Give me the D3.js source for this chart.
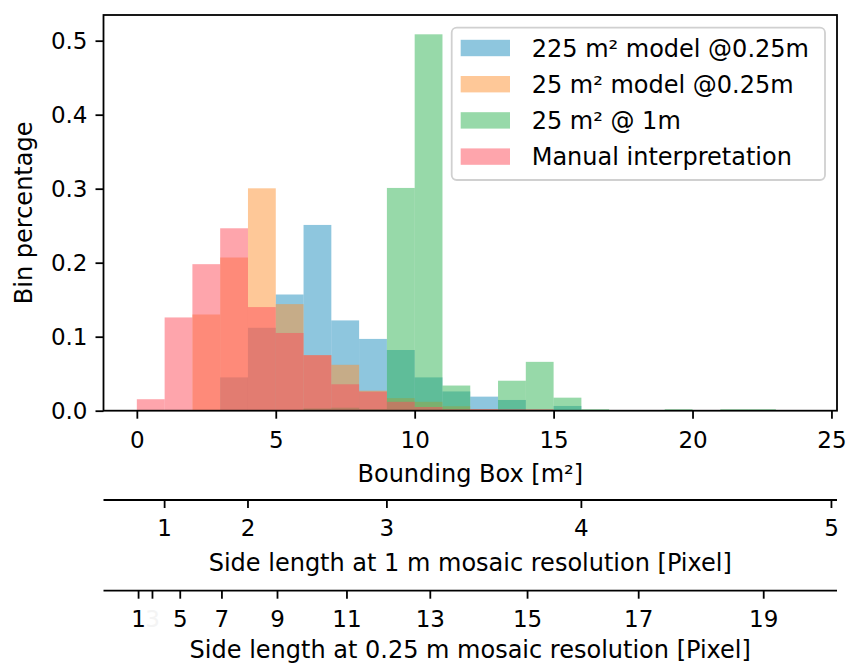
<!DOCTYPE html>
<html>
<head>
<meta charset="utf-8">
<script src="https://cdn.jsdelivr.net/npm/d3@7"></script>
<style>
  body { margin: 0; background: white; }
  text { font-family: "DejaVu Sans", sans-serif; fill: black; }
</style>
</head>
<body>
<div id="chart"></div>
<script>
// bin left edges, width 1 m²
var bins = d3.range(0, 24)

var model225 = [0, 0, 0, 0.045, 0.112, 0.157, 0.251, 0.122, 0.097, 0.082, 0.045, 0.026, 0.019, 0.0145, 0, 0.0064, 0, 0, 0, 0, 0, 0, 0, 0]
var model25 = [0, 0, 0.13, 0.207, 0.3005, 0.144, 0.075, 0.062, 0.027, 0.017, 0.012, 0.006, 0.002, 0, 0, 0, 0, 0, 0, 0, 0, 0, 0, 0]
var model25at1m = [0, 0, 0, 0, 0, 0, 0.003, 0.004, 0.002, 0.301, 0.5086, 0.034, 0, 0.0405, 0.066, 0.0176, 0.002, 0, 0, 0.002, 0, 0.002, 0.002, 0]
var manual = [0.0155, 0.126, 0.198, 0.2465, 0.14, 0.105, 0.075, 0.0357, 0.0257, 0.012, 0.005, 0.002, 0.002, 0.002, 0.002, 0, 0, 0, 0, 0, 0, 0, 0, 0]

var seriesNames = ['225 m² model @0.25m', '25 m² model @0.25m', '25 m² @ 1m', 'Manual interpretation']
var seriesColors = ['#1d8dbd', '#fd9131', '#2fb353', '#fd4b59']

var xTicks = [0, 5, 10, 15, 20, 25]
var yTicks = [0, 0.1, 0.2, 0.3, 0.4, 0.5]
var side1m = [1, 2, 3, 4, 5]
var side025 = [1, 3, 5, 7, 9, 11, 13, 15, 17, 19]

var width = 847, height = 663
var pLeft = 103.5, pRight = 837, pTop = 15, pBottom = 410.7

var svg = d3.select('#chart').append('svg')
  .attr('width', width)
  .attr('height', height)

var x = d3.scaleLinear().domain([-1.2, 25.2]).range([pLeft, pRight])
var y = d3.scaleLinear().domain([0, 0.5347]).range([pBottom, pTop])

// histograms, drawn in legend order with alpha
var allSeries = [model225, model25, model25at1m, manual]
allSeries.forEach(function (vals, i) {
  svg.append('g')
    .selectAll('rect')
    .data(bins.filter(function (b) { return vals[b] > 0 }))
    .enter().append('rect')
      .attr('x', function (b) { return x(b) })
      .attr('width', function (b) { return x(b + 1) - x(b) })
      .attr('y', function (b) { return y(vals[b]) })
      .attr('height', function (b) { return y(0) - y(vals[b]) })
      .attr('fill', seriesColors[i])
      .attr('fill-opacity', 0.5)
})

// main axes
var xAxis = svg.append('g')
  .attr('transform', 'translate(0,' + pBottom + ')')
  .call(d3.axisBottom(x).tickValues(xTicks).tickFormat(d3.format('d')).tickSize(8).tickPadding(13))
var yAxis = svg.append('g')
  .attr('transform', 'translate(' + pLeft + ',0)')
  .call(d3.axisLeft(y).tickValues(yTicks).tickFormat(d3.format('.1f')).tickSize(8).tickPadding(8))

;[xAxis, yAxis].forEach(function (g) {
  g.select('.domain').remove()
  g.selectAll('line').attr('stroke', 'black').attr('stroke-width', 1.8)
  g.selectAll('text').attr('font-size', 23).attr('font-family', 'DejaVu Sans')
})
xAxis.selectAll('text').attr('dy', '0.71em')

svg.append('rect')
  .attr('x', pLeft).attr('y', pTop)
  .attr('width', pRight - pLeft).attr('height', pBottom - pTop)
  .attr('fill', 'none').attr('stroke', 'black').attr('stroke-width', 1.8)

svg.append('text')
  .attr('x', (pLeft + pRight) / 2).attr('y', 481.7)
  .attr('text-anchor', 'middle').attr('font-size', 24)
  .text('Bounding Box [m²]')

svg.append('text')
  .attr('transform', 'translate(32,' + (pTop + pBottom) / 2 + ') rotate(-90)')
  .attr('text-anchor', 'middle').attr('font-size', 24)
  .text('Bin percentage')

// secondary axes: side length in pixels -> area in m²
function sideAxis(yPos, ticks, toArea, labelY, label) {
  var g = svg.append('g').attr('transform', 'translate(0,' + yPos + ')')
  g.append('line')
    .attr('x1', pLeft).attr('x2', pRight)
    .attr('stroke', 'black').attr('stroke-width', 1.8)
  var t = g.selectAll('.tk').data(ticks).enter().append('g')
    .attr('transform', function (d) { return 'translate(' + x(toArea(d)) + ',0)' })
  t.append('line').attr('y2', 8).attr('stroke', 'black').attr('stroke-width', 1.8)
  t.append('text')
    .attr('y', 36).attr('text-anchor', 'middle').attr('font-size', 23)
    .style('fill', function (d) { return d === 3 && ticks.length > 5 ? '#f4f4f4' : 'black' })
    .text(function (d) { return d })
  svg.append('text')
    .attr('x', (pLeft + pRight) / 2).attr('y', labelY)
    .attr('text-anchor', 'middle').attr('font-size', 24)
    .text(label)
}
sideAxis(500, side1m, function (s) { return s * s }, 570.7, 'Side length at 1 m mosaic resolution [Pixel]')
sideAxis(590.7, side025, function (p) { return p * p / 16 }, 658, 'Side length at 0.25 m mosaic resolution [Pixel]')

// legend
var legend = svg.append('g')
legend.append('rect')
  .attr('x', 451.7).attr('y', 27.7)
  .attr('width', 825 - 451.7).attr('height', 180 - 27.7)
  .attr('rx', 5).attr('ry', 5)
  .attr('fill', 'white').attr('fill-opacity', 0.8)
  .attr('stroke', '#d0d0d0').attr('stroke-width', 1.8)

var rows = legend.selectAll('.row').data(seriesNames).enter().append('g')
  .attr('transform', function (d, i) { return 'translate(0,' + (48 + i * 36.2) + ')' })
rows.append('rect')
  .attr('x', 460.7).attr('y', -8.2)
  .attr('width', 49.3).attr('height', 16.4)
  .attr('fill', function (d, i) { return seriesColors[i] })
  .attr('fill-opacity', 0.5)
rows.append('text')
  .attr('x', 531.7).attr('y', 8.6)
  .attr('font-size', 24)
  .text(function (d) { return d })
</script>
</body>
</html>
